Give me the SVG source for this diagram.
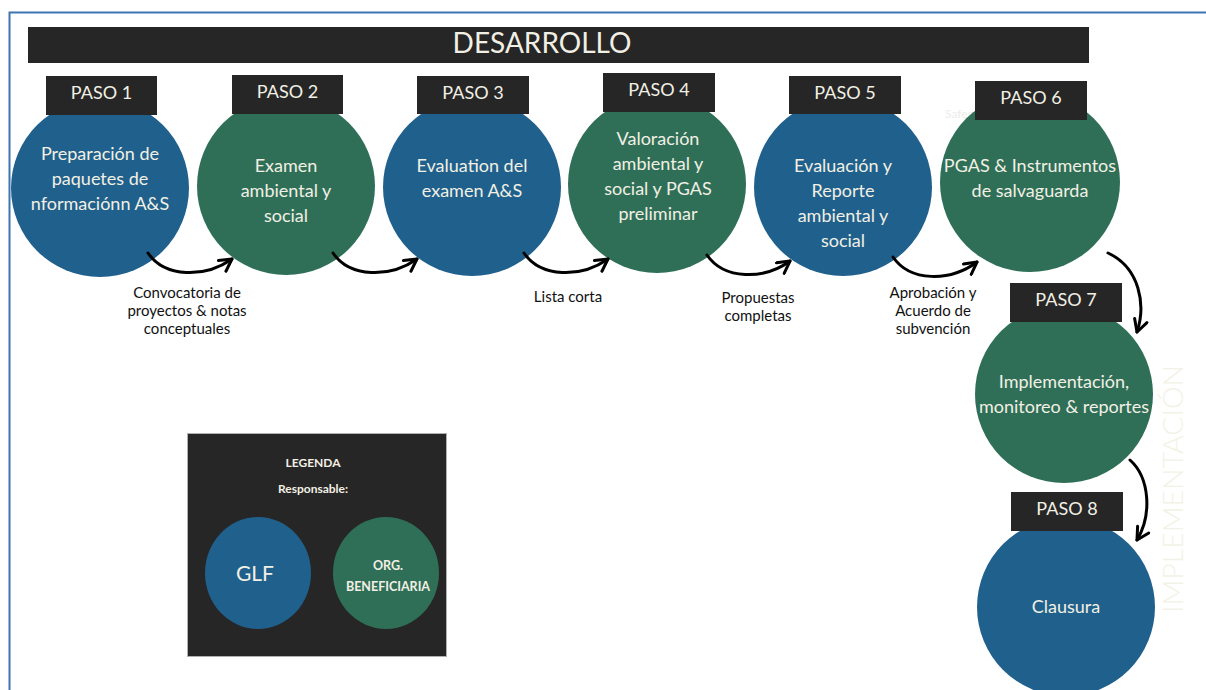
<svg xmlns="http://www.w3.org/2000/svg" width="1206" height="690" viewBox="0 0 1206 690">
<style>
.bar{fill:#262626}
.blue{fill:#20608c}
.green{fill:#2f6f58}
.lt{font-family:Lato,"Open Sans",sans-serif;fill:#f2f0e4;text-anchor:middle}
.step{font-size:18px}
.ct{font-size:18px}
.lab{font-family:Lato,"Open Sans",sans-serif;fill:#111;font-size:15px;text-anchor:middle}
.arr{fill:none;stroke:#000;stroke-width:3;stroke-linecap:round;marker-end:url(#chev)}
</style>
<defs>
<marker id="chev" markerUnits="userSpaceOnUse" viewBox="0 0 16 16" markerWidth="16" markerHeight="16" refX="14" refY="8" orient="auto">
<path d="M2,1.5 L14,8 L2,14.5" fill="none" stroke="#000" stroke-width="3" stroke-linecap="round" stroke-linejoin="round"/>
</marker>
</defs>
<rect width="1206" height="690" fill="#fff"/>
<path d="M9.5,690 V12.5 H1206" fill="none" stroke="#3f74b0" stroke-width="2"/>
<g id="header">
<rect class="bar" x="28" y="27" width="1061" height="36"/>
<text class="lt" x="542" y="53" font-size="28">DESARROLLO</text>
</g>
<text x="945" y="118" font-family="Lato,sans-serif" font-size="12" fill="#ececec">Safeguards</text>
<g id="implementacion">
<text class="lt" x="0" y="0" font-size="28" font-weight="300" transform="translate(1183,489) rotate(-90)" textLength="248" lengthAdjust="spacingAndGlyphs" style="fill:#f3f2e6">IMPLEMENTACIÓN</text>
</g>
<g id="paso1">
<circle class="blue" cx="100" cy="188" r="89"/>
<rect class="bar" x="46" y="76" width="111" height="39"/>
<text class="lt step" x="101.5" y="99">PASO 1</text>
<text class="lt ct" x="100" y="160">Preparación de</text>
<text class="lt ct" x="100" y="185">paquetes de</text>
<text class="lt ct" x="100" y="210">nformaciónn A&amp;S</text>
</g>
<g id="paso2">
<circle class="green" cx="286" cy="186" r="89"/>
<rect class="bar" x="232" y="75" width="111" height="39"/>
<text class="lt step" x="287.5" y="98">PASO 2</text>
<text class="lt ct" x="286" y="172">Examen</text>
<text class="lt ct" x="286" y="197">ambiental y</text>
<text class="lt ct" x="286" y="222">social</text>
</g>
<g id="paso3">
<circle class="blue" cx="472" cy="187" r="89"/>
<rect class="bar" x="417" y="76" width="112" height="38"/>
<text class="lt step" x="473" y="99">PASO 3</text>
<text class="lt ct" x="472" y="172">Evaluation del</text>
<text class="lt ct" x="472" y="197">examen A&amp;S</text>
</g>
<g id="paso4">
<circle class="green" cx="657" cy="184" r="89"/>
<rect class="bar" x="603" y="73" width="112" height="39"/>
<text class="lt step" x="659" y="96">PASO 4</text>
<text class="lt ct" x="658" y="145">Valoración</text>
<text class="lt ct" x="658" y="170">ambiental y</text>
<text class="lt ct" x="658" y="195">social y PGAS</text>
<text class="lt ct" x="658" y="220">preliminar</text>
</g>
<g id="paso5">
<circle class="blue" cx="843" cy="187" r="89"/>
<rect class="bar" x="789" y="76" width="112" height="38"/>
<text class="lt step" x="845" y="99">PASO 5</text>
<text class="lt ct" x="843" y="172">Evaluación y</text>
<text class="lt ct" x="843" y="197">Reporte</text>
<text class="lt ct" x="843" y="222">ambiental y</text>
<text class="lt ct" x="843" y="247">social</text>
</g>
<g id="paso6">
<circle class="green" cx="1030" cy="182" r="90"/>
<rect class="bar" x="975" y="81" width="112" height="39"/>
<text class="lt step" x="1031" y="104">PASO 6</text>
<text class="lt ct" x="1030" y="172">PGAS &amp; Instrumentos</text>
<text class="lt ct" x="1030" y="197">de salvaguarda</text>
</g>
<g id="paso7">
<circle class="green" cx="1064" cy="394" r="89"/>
<rect class="bar" x="1010" y="283" width="112" height="39"/>
<text class="lt step" x="1066" y="306">PASO 7</text>
<text class="lt ct" x="1064" y="388">Implementación,</text>
<text class="lt ct" x="1064" y="413">monitoreo &amp; reportes</text>
</g>
<g id="paso8">
<circle class="blue" cx="1066" cy="607" r="89"/>
<rect class="bar" x="1011" y="492" width="112" height="39"/>
<text class="lt step" x="1067" y="515">PASO 8</text>
<text class="lt ct" x="1066" y="613">Clausura</text>
</g>
<g id="connectors">
<path class="arr" d="M148,253 C165,278 205,278 232,259"/>
<path class="arr" d="M333,253 C350,278 390,278 417,259"/>
<path class="arr" d="M524,253 C541,278 581,278 608,259"/>
<path class="arr" d="M707,255 C724,280 764,280 790,261"/>
<path class="arr" d="M893,257 C910,282 950,282 977,262"/>
<path class="arr" d="M1108,253 C1140,268 1146,305 1137,332"/>
<path class="arr" d="M1130,460 C1150,478 1152,515 1137,540"/>
</g>
<g id="labels">
<text class="lab" x="187" y="298">Convocatoria de</text>
<text class="lab" x="187" y="316">proyectos &amp; notas</text>
<text class="lab" x="187" y="334">conceptuales</text>
<text class="lab" x="568" y="302">Lista corta</text>
<text class="lab" x="758" y="303">Propuestas</text>
<text class="lab" x="758" y="321">completas</text>
<text class="lab" x="933" y="298">Aprobación y</text>
<text class="lab" x="933" y="316">Acuerdo de</text>
<text class="lab" x="933" y="334">subvención</text>
</g>
<g id="legend">
<rect x="187.5" y="433.5" width="259" height="223" fill="#262626" stroke="#b0b0b0" stroke-width="1"/>
<text class="lt" x="313" y="467" font-size="12" font-weight="bold">LEGENDA</text>
<text class="lt" x="313" y="493" font-size="12" font-weight="bold">Responsable:</text>
<ellipse class="blue" cx="258" cy="573" rx="53" ry="56"/>
<text class="lt" x="255" y="581" font-size="21">GLF</text>
<ellipse class="green" cx="386" cy="573" rx="53" ry="56"/>
<text class="lt" x="388" y="570" font-size="12.5" font-weight="bold">ORG.</text>
<text class="lt" x="388" y="591" font-size="12.5" font-weight="bold">BENEFICIARIA</text>
</g>
</svg>
